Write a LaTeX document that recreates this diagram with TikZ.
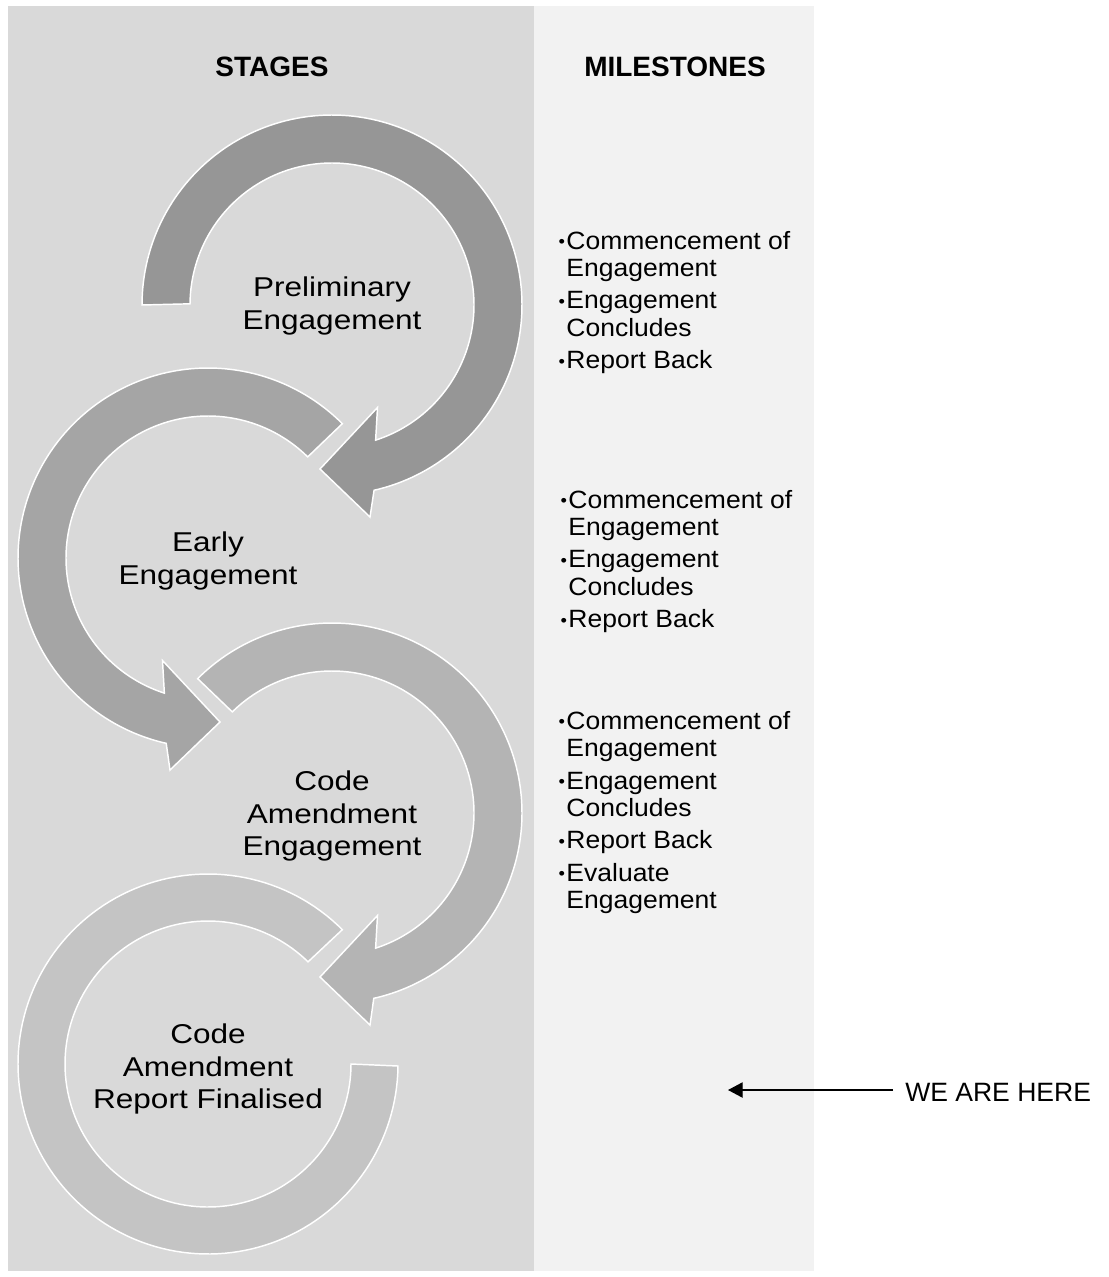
\documentclass[tikz,border=0pt]{standalone}
\usepackage{fontspec}
\setmainfont{Liberation Sans}
\newfontfamily\stagefont[FakeStretch=1.16]{Liberation Sans}
\newfontfamily\msfont[FakeStretch=1.06]{Liberation Sans}
\usetikzlibrary{arrows.meta}
\definecolor{panelL}{HTML}{D9D9D9}
\definecolor{panelR}{HTML}{F2F2F2}
\definecolor{arrA}{HTML}{969696}
\definecolor{arrB}{HTML}{A5A5A5}
\definecolor{arrC}{HTML}{B4B4B4}
\definecolor{arrD}{HTML}{C4C4C4}
\newcommand{\msbul}{\makebox[6.9pt][c]{\raisebox{1.3pt}{\fontsize{13}{13}\selectfont•}}}
\newcommand{\msind}{\hspace*{6.9pt}}
\begin{document}
\begin{tikzpicture}[x=0.75pt,y=-0.75pt,
  band/.style={draw=white,line width=1.1pt,line join=miter},
  hdr/.style={font=\bfseries\fontsize{21}{25}\selectfont,anchor=base,inner sep=0pt},
  stagelbl/.style={font=\stagefont\fontsize{20.4}{24.4}\selectfont,align=center,anchor=center,inner sep=0pt},
  mslist/.style={font=\msfont\fontsize{18.75}{20.6}\selectfont,align=left,anchor=north west,inner sep=0pt},
  pointer/.style={line width=1pt,-{Triangle[length=11pt,width=11.5pt]}}]
\useasboundingbox (0,0) rectangle (1109,1277);
\fill[white] (0,0) rectangle (1109,1277);
% panels
\fill[panelL] (8,6) rectangle (534,1271);
\fill[panelR] (534,6) rectangle (814,1271);

% circular arrow 1 (Preliminary)
\filldraw[band,fill=arrA]
  plot[domain=0:1,samples=150] ({332+190*cos(180+257.7*\x)},{305+190*sin(180+257.7*\x)})
  -- (370,517) -- (320,469) -- (377.5,407.5)
  -- plot[domain=0:1,samples=150] ({332+142*cos(432.1-252.1*\x)},{305+142*sin(432.1-252.1*\x)})
  -- cycle;
% circular arrow 2 (Early)
\filldraw[band,fill=arrB]
  plot[domain=0:1,samples=150] ({208+190*cos(-45-212.7*\x)},{558+190*sin(-45-212.7*\x)})
  -- (170,770) -- (220,722) -- (162.5,660.5)
  -- plot[domain=0:1,samples=150] ({208+142*cos(-252.1+207.1*\x)},{558+142*sin(-252.1+207.1*\x)})
  -- cycle;
% circular arrow 3 (Code Amendment Engagement)
\filldraw[band,fill=arrC]
  plot[domain=0:1,samples=150] ({332+190*cos(225+212.7*\x)},{813+190*sin(225+212.7*\x)})
  -- (370,1025) -- (320,977) -- (377.5,915.5)
  -- plot[domain=0:1,samples=150] ({332+142*cos(432.1-207.1*\x)},{813+142*sin(432.1-207.1*\x)})
  -- cycle;
% ring 4 (Report Finalised)
\filldraw[band,fill=arrD]
  plot[domain=0:1,samples=150] ({208+190*cos(-45-315*\x)},{1064+190*sin(-45-315*\x)})
  -- plot[domain=0:1,samples=150] ({208+143*cos(-360+315*\x)},{1064+143*sin(-360+315*\x)})
  -- cycle;

% headers
\node[hdr] (hdrL) at (272,77) {STAGES};
\node[hdr] (hdrR) at (675,77) {MILESTONES};

% stage labels
\node[stagelbl] (stg1) at (332,306) {Preliminary\\Engagement};
\node[stagelbl] (stg2) at (208,561) {Early\\Engagement};
\node[stagelbl] (stg3) at (332,816) {Code\\Amendment\\Engagement};
\node[stagelbl] (stg4) at (208,1069) {Code\\Amendment\\Report Finalised};

% milestones
\node[mslist] (ms1) at (557,230.7) {\msbul Commencement of\\\msind Engagement\\[3.75pt]\msbul Engagement\\\msind Concludes\\[3.75pt]\msbul Report Back};
\node[mslist] (ms2) at (559,489.7) {\msbul Commencement of\\\msind Engagement\\[3.75pt]\msbul Engagement\\\msind Concludes\\[3.75pt]\msbul Report Back};
\node[mslist] (ms3) at (557,710.7) {\msbul Commencement of\\\msind Engagement\\[3.75pt]\msbul Engagement\\\msind Concludes\\[3.75pt]\msbul Report Back\\[3.75pt]\msbul Evaluate\\\msind Engagement};

% we are here
\node[font=\fontsize{19.9}{24}\selectfont,anchor=base west,inner xsep=9pt,inner ysep=0pt] (here) at (893,1101) {WE ARE HERE};
\coordinate (herept) at (728,1090);
\draw[pointer] (here.west |- herept) -- (herept);
\end{tikzpicture}
\end{document}
